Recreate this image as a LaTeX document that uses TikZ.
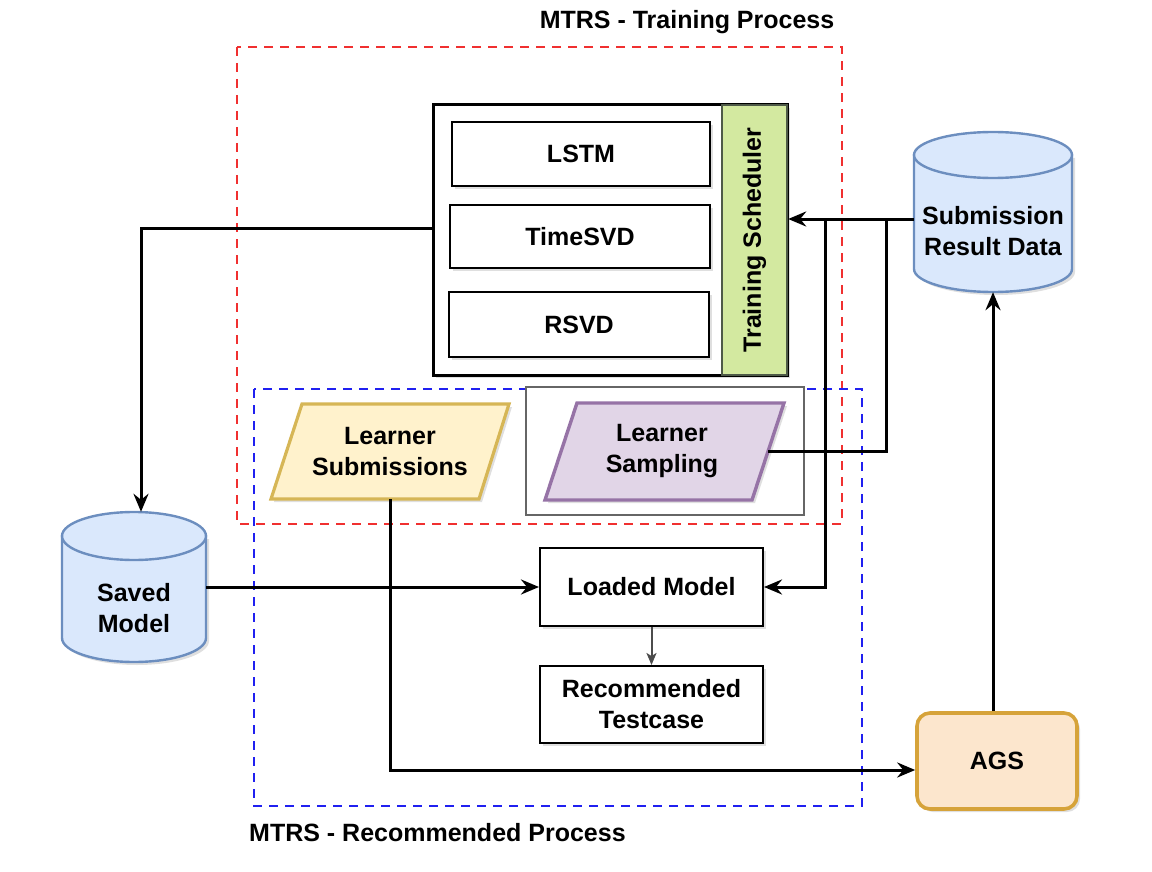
\documentclass[tikz,border=0pt]{standalone}
\usepackage{fontspec}
\setmainfont{Liberation Sans}
\usetikzlibrary{arrows.meta,shadows}
\definecolor{cylfill}{HTML}{DAE8FC}
\definecolor{cylline}{HTML}{6C8EBF}
\definecolor{yelfill}{HTML}{FFF2CC}
\definecolor{yelline}{HTML}{D6B656}
\definecolor{purfill}{HTML}{E1D5E7}
\definecolor{purline}{HTML}{9673A6}
\definecolor{grnfill}{HTML}{D3E9A0}
\definecolor{grnline}{HTML}{4E5A48}
\definecolor{orgfill}{HTML}{FCE6CD}
\definecolor{orgline}{HTML}{D6A33A}
\definecolor{redash}{HTML}{F03030}
\definecolor{bluedash}{HTML}{2020F0}
\begin{document}
\begin{tikzpicture}[x=1pt,y=-1pt,
  font=\fontsize{25}{31}\selectfont\bfseries,
  shd/.style={drop shadow={opacity=0.25,shadow xshift=3pt,shadow yshift=-3pt}},
  box/.style={draw=black,line width=2pt,fill=white,align=center,inner sep=0pt,shd},
  ghost/.style={inner sep=0pt,align=center},
  conn/.style={line width=3pt,-{Stealth[length=18pt,width=15pt,inset=6pt]}},
  plain/.style={line width=3pt},
  thin/.style={line width=2pt,draw=black!70,-{Stealth[length=12pt,width=10pt,inset=3pt]}},
  region/.style={line width=1.5pt,dash pattern=on 9pt off 7pt}]
\useasboundingbox (0,0) rectangle (1152,872);

% dashed regions
\draw[region,draw=redash] (237,47) rectangle (842,524);
\draw[region,draw=bluedash] (254,389) rectangle (862,806);
\node[ghost] (T1) at (687,22) {MTRS - Training Process};
\node[ghost,anchor=west] (T2) at (249,833) {MTRS - Recommended Process};

% training container
\node[box,line width=3pt,minimum width=354pt,minimum height=270pt] (TC) at (610,240) {};
\node[draw=grnline,line width=2.4pt,fill=grnfill,minimum width=65pt,minimum height=270pt,inner sep=0pt] (TS) at (754.5,240) {};
\node[ghost,rotate=90] (TSt) at (754.5,240) {Training Scheduler};
\node[box,minimum width=258pt,minimum height=64pt] (LSTM) at (581,154) {LSTM};
\node[box,minimum width=260pt,minimum height=63pt] (TSVD) at (580,236.5) {TimeSVD};
\node[box,minimum width=260pt,minimum height=65pt] (RSVD) at (579,324.5) {RSVD};

% submission result data cylinder
\draw[draw=cylline,fill=cylfill,line width=2.4pt,shd] (914,155) -- (914,269) arc[start angle=180,end angle=360,x radius=79pt,y radius=23pt] -- (1072,155) -- cycle;
\draw[draw=cylline,fill=cylfill,line width=2.4pt] (993,155) ellipse[x radius=79pt,y radius=23pt];
\node[ghost,minimum width=158pt,minimum height=160pt] (SRD) at (993,212) {};
\node[ghost] (SRDt) at (993,231) {Submission\\Result Data};

% saved model cylinder
\draw[draw=cylline,fill=cylfill,line width=2.4pt,shd] (62,536) -- (62,638) arc[start angle=180,end angle=360,x radius=72pt,y radius=24pt] -- (206,536) -- cycle;
\draw[draw=cylline,fill=cylfill,line width=2.4pt] (134,536) ellipse[x radius=72pt,y radius=24pt];
\node[ghost,minimum width=144pt,minimum height=150pt] (SM) at (134,587) {};
\node[ghost] (SMt) at (134,608) {Saved\\Model};

% learner submissions
\draw[draw=yelline,fill=yelfill,line width=3.2pt,shd] (302,404) -- (509,404) -- (479,499) -- (271,499) -- cycle;
\node[ghost,minimum height=95pt] (LSub) at (390,451.5) {Learner\\Submissions};

% learner sampling
\node[draw=black!60,line width=2pt,fill=white,minimum width=278pt,minimum height=128pt,inner sep=0pt] (LSbox) at (665,451) {};
\draw[draw=purline,fill=purfill,line width=3.4pt,shd] (577,403) -- (784,403) -- (752,500) -- (545,500) -- cycle;
\node[ghost] (LS) at (662,451) {Learner\\Sampling};
\coordinate (LSr) at (768,451);

% loaded model / recommended testcase
\node[box,minimum width=223pt,minimum height=78pt] (LM) at (651.5,587) {Loaded Model};
\node[box,minimum width=223pt,minimum height=77pt] (RT) at (651.5,704.5) {Recommended\\Testcase};

% AGS
\node[draw=orgline,fill=orgfill,line width=3.6pt,rounded corners=13pt,minimum width=160pt,minimum height=96pt,inner sep=0pt,shd] (AGS) at (997,761) {AGS};

% connectors
\coordinate (jA) at (886,219);
\coordinate (jB) at (825,219);
\draw[conn] ([yshift=12pt]TC.west) -| ([xshift=7pt]SM.north);
\draw[conn] (SM.east) -- (LM.west);
\draw[conn] ([yshift=-7pt]SRD.west) -- (TS.east |- jA);
\draw[plain] (LSr) -| (jA);
\draw[conn] (jB) |- (LM.east);
\draw[conn] (LSub.south) |- ([yshift=-9pt]AGS.west);
\draw[conn] (AGS.north -| SRD.south) -- (SRD.south);
\draw[thin] (LM.south) -- (RT.north);
\end{tikzpicture}
\end{document}
